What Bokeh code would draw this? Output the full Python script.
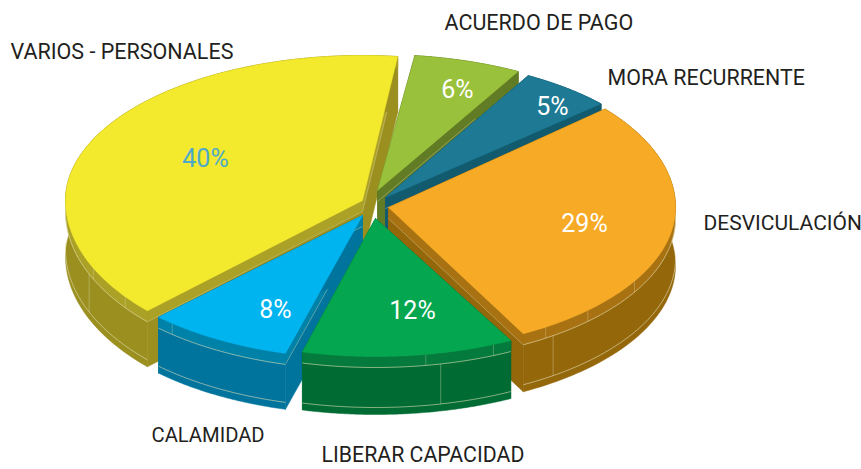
import numpy as np
from bokeh.embed import file_html
from bokeh.resources import INLINE
from bokeh.plotting import figure
from bokeh.core.properties import value

categories = ["DESVICULACIÓN", "LIBERAR CAPACIDAD", "CALAMIDAD", "VARIOS - PERSONALES", "ACUERDO DE PAGO", "MORA RECURRENTE"]
values = [29, 12, 8, 40, 6, 5]
pct_labels = ["29%", "12%", "8%", "40%", "6%", "5%"]

top_colors = ["#f6aa25", "#04a650", "#00b4ef", "#f3e92d", "#9ac13b", "#1e7a94"]
band_colors = ["#a87212", "#047a3c", "#0082a8", "#aba126", "#617c25", "#125a6e"]
wall_colors = ["#94670b", "#006b33", "#00749d", "#9a8f1f", "#617c25", "#125a6e"]
pct_colors = ["white", "white", "white", "#4fa9c8", "white", "white"]

# layout (screen px)
apex = [(388, 207), (375, 218), (362, 215), (362, 200), (377, 190), (385, 197)]
rx = [287, 290, 290, 297, 290, 290]
ry_top = [150, 138, 143, 145, 136, 140]
ry_bot = [143, 138, 143, 160, 136, 140]
nudge = [(0, 1.4), (1.2, 2), (1.2, 0.7), (-1, 2.6), (2, 2), (1.5, 1)]
depth = [58, 58, 56, 56, 56, 56]
band = 11
seams = [[-55], [-77], [], [-157], [], []]
ticks = [[-56.8, -46, -31], [-80, -66], [-131], [-155, -143], [], []]
label_pos = [(703, 222), (321, 454), (151, 434), (10, 51), (444, 22), (607, 77)]
label_size = ["21px", "21.3px", "20.2px", "21.5px", "21.5px", "21.4px"]
pct_pos = [(584, 223), (412, 310), (275, 309), (205, 158), (457, 89), (552, 106)]
draw_order = [3, 4, 5, 0, 2, 1]
START = 41.0

p = figure(width=861, height=469, x_range=(0, 861), y_range=(469, 0),
           output_backend="svg", toolbar_location=None, min_border=0)
p.axis.visible = False
p.grid.visible = False
p.outline_line_color = None

total = sum(values)
edges = [START]
for v in values:
    edges.append(edges[-1] - 360.0 * v / total)


def arc(i, a0, a1, dy=0.0, n=80):
    t = np.radians(np.linspace(a0, a1, n))
    cx, cy = apex[i]
    s = np.sin(t)
    ry = np.where(s >= 0, ry_top[i], ry_bot[i])
    return cx + rx[i] * np.cos(t), cy - ry * s + dy


LINE = "#e6e2b8"
for i in draw_order:
    a0, a1 = edges[i] + nudge[i][0], edges[i + 1] + nudge[i][1]
    cx, cy = apex[i]
    d = depth[i]
    ax, ay = arc(i, a0, a1)
    for (ex, ey) in [(ax[0], ay[0]), (ax[-1], ay[-1])]:
        p.patch([cx, ex, ex, cx], [cy, ey, ey + d, cy + d], fill_color=wall_colors[i], line_color=wall_colors[i], line_width=0.5)
        p.patch([cx, ex, ex, cx], [cy, ey, ey + band, cy + band], fill_color=band_colors[i], line_color=band_colors[i], line_width=0.5)
        p.line([cx, ex], [cy + band, ey + band], line_color="#d8d4a8", line_width=0.6, line_alpha=0.7)
    bx, by = arc(i, a0, a1, d)
    p.patch(np.r_[ax, bx[::-1]], np.r_[ay, by[::-1]], fill_color=wall_colors[i], line_color=wall_colors[i], line_width=0.5)
    mx, my = arc(i, a0, a1, band)
    p.patch(np.r_[ax, mx[::-1]], np.r_[ay, my[::-1]], fill_color=band_colors[i], line_color=band_colors[i], line_width=0.5)
    front = np.sin(np.radians(np.linspace(a0, a1, 80))) < 0.05
    if front.any():
        p.line(mx[front], my[front], line_color=LINE, line_width=0.7, line_alpha=0.85)
        lx, ly = arc(i, a0, a1, d - 7)
        p.line(lx[front], ly[front], line_color=LINE, line_width=0.7, line_alpha=0.85)
    for s in seams[i]:
        sx, sy = arc(i, s, s, 0, 2)
        p.line([sx[0], sx[0]], [sy[0] + band, sy[0] + d - 7], line_color=LINE, line_width=0.6, line_alpha=0.6)
    for s in ticks[i]:
        sx, sy = arc(i, s, s, 0, 2)
        p.line([sx[0], sx[0]], [sy[0], sy[0] + band], line_color=LINE, line_width=0.6, line_alpha=0.5)
    p.patch(np.r_[cx, ax], np.r_[cy, ay], fill_color=top_colors[i], line_color=top_colors[i], line_width=0.5)

FONT = "Roboto"
for (x, y), name, size in zip(label_pos, categories, label_size):
    p.text([x], [y], text=[name], text_font=value(FONT), text_font_size=size,
           text_color="#231f20", text_align="left", text_baseline="middle")
p.text([q[0] for q in pct_pos], [q[1] for q in pct_pos], text=pct_labels,
       text_font=value(FONT), text_font_size="25px", text_color=pct_colors,
       text_align="center", text_baseline="middle")

open("out.html", "w").write(file_html(p, INLINE))
